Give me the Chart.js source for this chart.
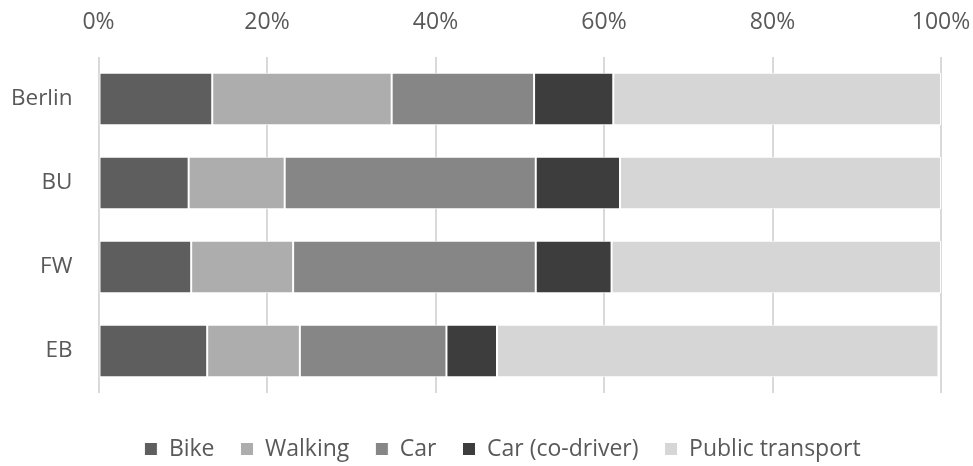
<!DOCTYPE html>
<html>
<head>
<meta charset="utf-8">
<script src="https://cdn.jsdelivr.net/npm/chart.js@4/dist/chart.umd.min.js"></script>
<style>
  html, body { margin: 0; padding: 0; background: #ffffff; }
  #wrap { width: 973px; height: 466px; position: relative; }
</style>
</head>
<body>
<div id="wrap"><canvas id="c" width="973" height="466"></canvas></div>
<script>
const categories = ['Berlin', 'BU', 'FW', 'EB'];
const seriesNames = ['Bike', 'Walking', 'Car', 'Car (co-driver)', 'Public transport'];
const bike = [13.5, 10.7, 11.0, 12.9];
const walking = [21.3, 11.4, 12.1, 11.0];
const car = [16.9, 29.8, 28.8, 17.4];
const carCoDriver = [9.4, 10.0, 9.0, 6.0];
const publicTransport = [38.9, 38.1, 39.1, 52.4];
const tickValues = [0, 20, 40, 60, 80, 100];

const colors = ['#5e5e5e', '#adadad', '#868686', '#3d3d3d', '#d6d6d6'];
const values = [bike, walking, car, carCoDriver, publicTransport];
const textColor = '#595959';
const fontFamily = '"Open Sans", "DejaVu Sans", sans-serif';

const datasets = seriesNames.map((name, i) => ({
  label: name,
  data: values[i],
  backgroundColor: colors[i],
  borderColor: '#ffffff',
  borderWidth: 1,
  borderSkipped: false,
  barPercentage: 0.625,
  categoryPercentage: 1.0
}));

const legendShift = {
  id: 'legendShift',
  afterLayout(chart) {
    if (chart.legend) { chart.legend.left += 64; }
  }
};

new Chart(document.getElementById('c'), {
  type: 'bar',
  data: { labels: categories, datasets: datasets },
  plugins: [legendShift],
  options: {
    indexAxis: 'y',
    responsive: false,
    animation: false,
    devicePixelRatio: 1,
    layout: { padding: { left: 0, right: 32, top: 0, bottom: 0 } },
    scales: {
      x: {
        position: 'top',
        stacked: true,
        min: 0,
        max: 100,
        afterBuildTicks: (axis) => { axis.ticks = tickValues.map(v => ({ value: v })); },
        ticks: {
          callback: (v) => v + '%',
          color: textColor,
          font: { family: fontFamily, size: 23 },
          padding: 21,
          maxRotation: 0
        },
        grid: { color: '#d9d9d9', lineWidth: 2, drawTicks: false },
        border: { display: false },
        afterFit: (s) => { s.height = 57; s.paddingLeft = 0; s.paddingRight = 0; }
      },
      y: {
        stacked: true,
        ticks: {
          color: textColor,
          font: { family: fontFamily, size: 22.5 },
          padding: 26
        },
        grid: { display: false, drawTicks: false },
        border: { display: false },
        afterFit: (s) => { s.width = 98.5; s.paddingTop = 0; s.paddingBottom = 0; }
      }
    },
    plugins: {
      legend: {
        position: 'bottom',
        maxHeight: 73,
        title: { display: true, text: '', padding: { top: 17.5, bottom: 0 }, font: { size: 1, lineHeight: 1 } },
        labels: {
          color: textColor,
          font: { family: fontFamily, size: 23 },
          boxWidth: 13,
          boxHeight: 13,
          padding: 26
        }
      },
      tooltip: { enabled: false }
    }
  }
});
</script>
</body>
</html>
